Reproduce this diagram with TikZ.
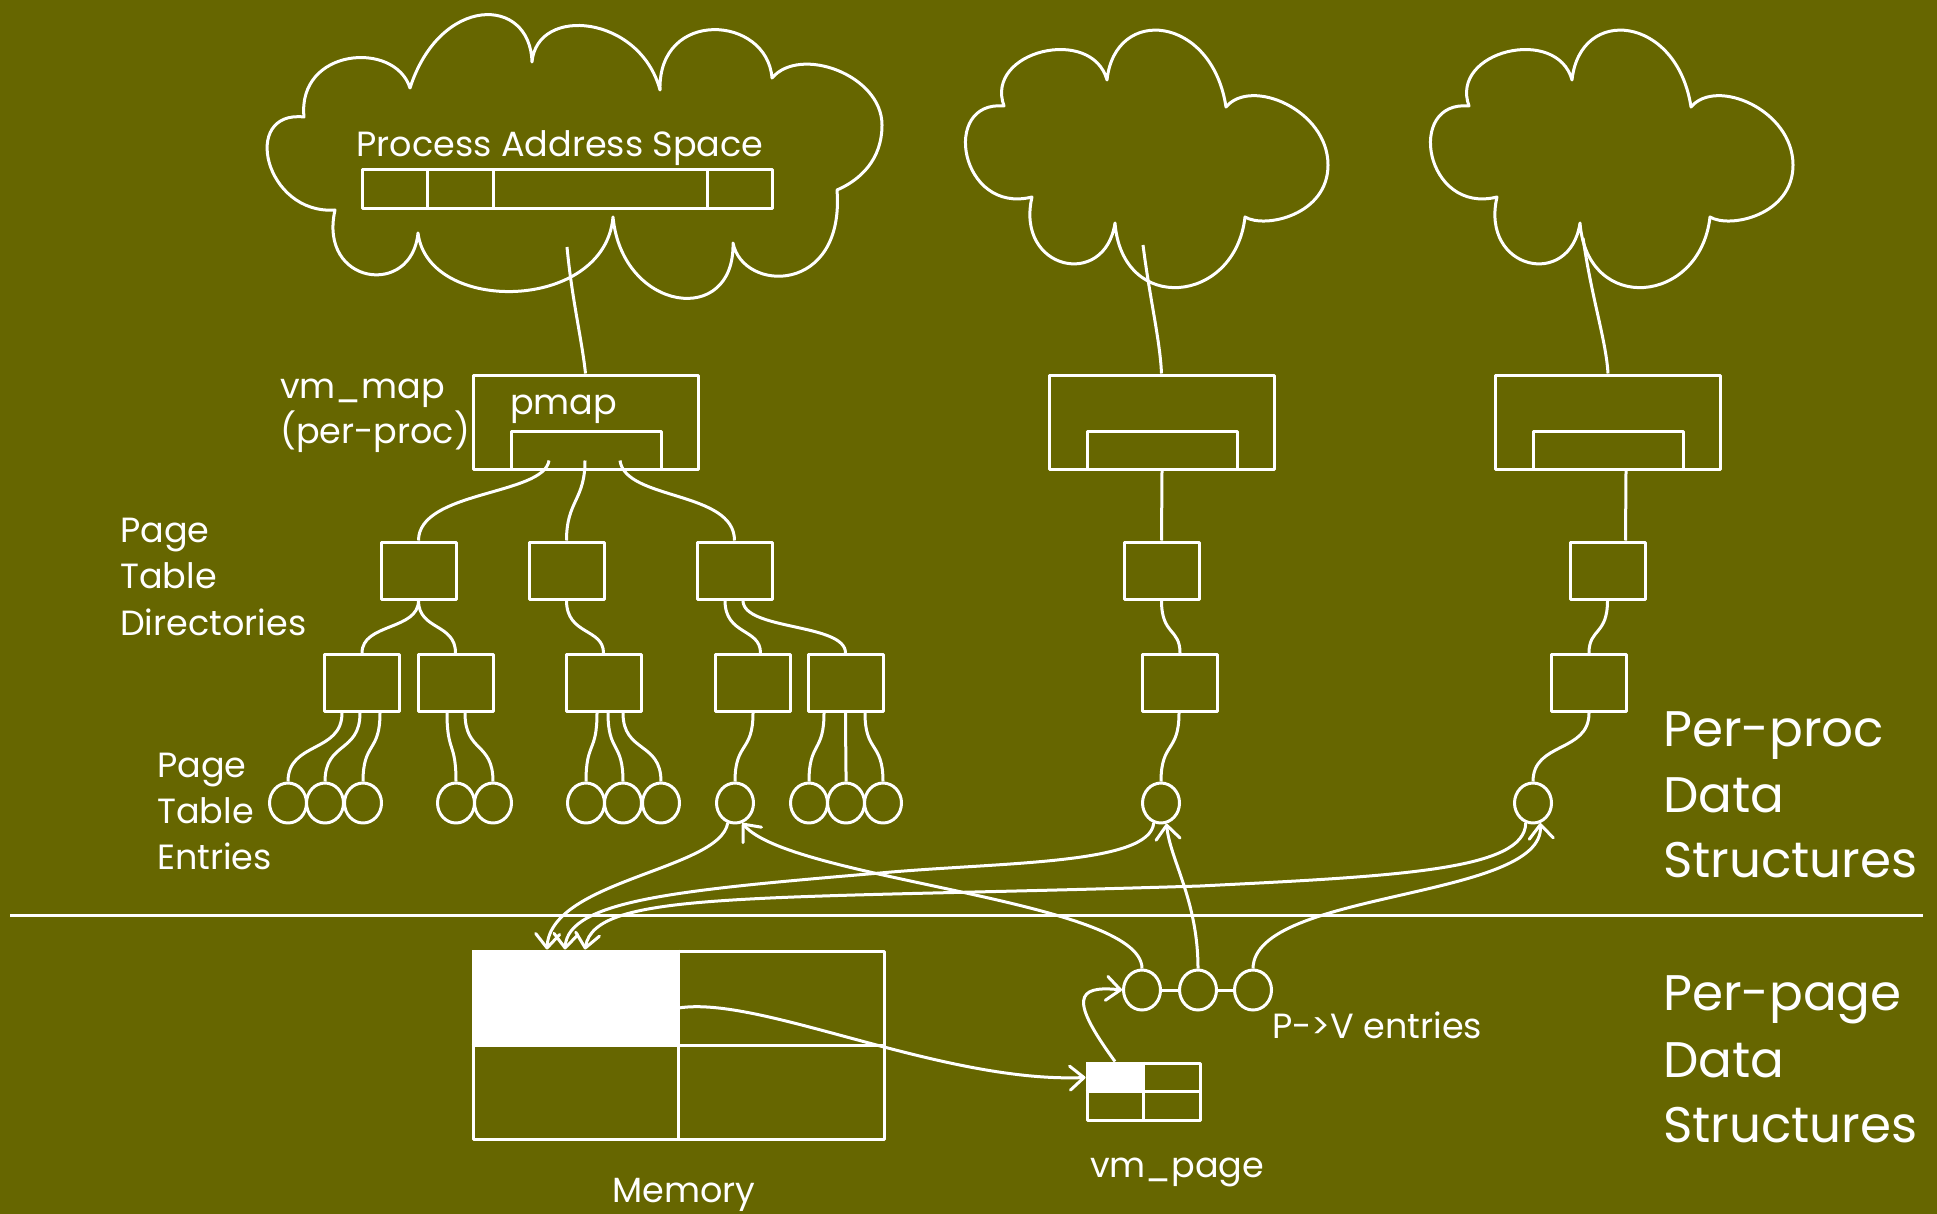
\documentclass[tikz,border=0pt]{standalone}
\usepackage{fontspec}
\setmainfont{Poppins}
\usetikzlibrary{arrows.meta,shapes.geometric}
\definecolor{slidebg}{RGB}{102,102,0}
\tikzset{
  wl/.style={draw=white,line width=3pt,line join=round},
  sbox/.style={wl,rectangle,inner sep=0pt,minimum width=75pt,minimum height=57pt},
  mapbox/.style={wl,rectangle,inner sep=0pt,minimum width=225pt,minimum height=94pt},
  pmbox/.style={wl,rectangle,inner sep=0pt,minimum width=150pt,minimum height=38pt},
  pte/.style={wl,ellipse,inner sep=0pt,minimum width=37pt,minimum height=40pt},
  lbl/.style={text=white,inner sep=0pt,font=\fontsize{35}{44}\selectfont},
  big/.style={text=white,inner sep=0pt,font=\fontsize{50}{60}\selectfont},
  link/.style={wl},
  arr/.style={wl,-{Straight Barb[length=14pt,width=24pt,round]}},
  % a small cloud, drawn lobe by lobe between its cusps
  smallcloud/.pic={
    \draw[wl] (1004,106) .. controls (984,51) and (1092,25) .. (1107,80)
      .. controls (1115,5) and (1212,15) .. (1226,107)
      .. controls (1251,77) and (1328,110) .. (1328,165)
      .. controls (1328,215) and (1265,229) .. (1245,217)
      .. controls (1235,305) and (1122,315) .. (1115,223)
      .. controls (1105,290) and (1015,270) .. (1032,197)
      .. controls (960,215) and (940,100) .. (1004,106) -- cycle;
  }
}
\begin{document}
\begin{tikzpicture}[x=1pt,y=-1pt]
% canvas
\fill[slidebg] (0,0) rectangle (1937,1214);
\useasboundingbox (0,0) rectangle (1937,1214);

% ---- process address space cloud
\draw[wl] (304,117) .. controls (240,110) and (265,215) .. (335,210)
  .. controls (318,285) and (412,298) .. (418,233)
  .. controls (428,315) and (605,312) .. (613,217)
  .. controls (622,312) and (735,328) .. (733,243)
  .. controls (743,293) and (845,295) .. (837,190)
  .. controls (860,180) and (882,160) .. (882,125)
  .. controls (882,75) and (800,45) .. (772,78)
  .. controls (767,15) and (658,8) .. (660,90)
  .. controls (640,15) and (537,5) .. (532,62)
  .. controls (530,-5) and (440,-5) .. (410,88)
  .. controls (395,40) and (297,48) .. (304,117) -- cycle;
\node[lbl,anchor=base] (tasp) at (560,157) {Process Address Space};
\node[wl,rectangle,inner sep=0pt,minimum width=410pt,minimum height=39pt] (asb) at (567,189.5) {};
\foreach \dx in {-140,-74,140}
  \draw[wl] ([xshift=\dx pt]asb.north) -- ([xshift=\dx pt]asb.south);

% ---- the two other clouds
\pic at (0,0) {smallcloud};
\pic at (465,0) {smallcloud};

% ---- vm_map structures
\node[mapbox] (vm1) at (585.5,422) {};
\node[pmbox]  (pm1) at (586,450) {};
\node[mapbox] (vm2) at (1161.5,422) {};
\node[pmbox]  (pm2) at (1162,450) {};
\node[mapbox] (vm3) at (1608,422) {};
\node[pmbox]  (pm3) at (1608,450) {};
\node[lbl,anchor=base west] (tpm) at (510,414) {pmap};
\node[lbl,anchor=base west] (tvm) at (280,398) {vm\_map};
\node[lbl,anchor=base west] (tpp) at (280,443) {(per-proc)};

\coordinate (c1s) at (567,247);
\coordinate (c2s) at (1143,245);
\coordinate (c3s) at (1583,238);
\draw[link] (c1s) .. controls (572,300) and (582,340) .. (vm1.north);
\draw[link] (c2s) .. controls (1150,300) and (1160,340) .. (vm2.north);
\draw[link] (c3s) .. controls (1592,300) and (1606,340) .. (vm3.north);

% ---- page table directories
\node[sbox] (d1) at (418.5,570.5) {};
\node[sbox] (d2) at (566.5,570.5) {};
\node[sbox] (d3) at (734.5,570.5) {};
\node[sbox] (d4) at (1161.5,570.5) {};
\node[sbox] (d5) at (1607.5,570.5) {};
\node[lbl,anchor=base west] (tptd1) at (120,542) {Page};
\node[lbl,anchor=base west] (tptd2) at (120,588) {Table};
\node[lbl,anchor=base west] (tptd3) at (120,635) {Directories};

\draw[link] ([xshift=-37pt,yshift=10pt]pm1.south) .. controls +(-5,35) and +(0,-50) .. (d1.north);
\draw[link] ([xshift=-1pt,yshift=10pt]pm1.south) .. controls +(0,40) and +(0,-40) .. (d2.north);
\draw[link] ([xshift=34pt,yshift=10pt]pm1.south) .. controls +(5,40) and +(0,-50) .. (d3.north);
\draw[link] (pm2.south) -- (d4.north);
\draw[link] ([xshift=18pt]pm3.south) -- ([xshift=18pt]d5.north);

% ---- page tables
\node[sbox] (t1) at (362,683) {};
\node[sbox] (t2) at (455.5,683) {};
\node[sbox] (t3) at (603.5,683) {};
\node[sbox] (t4) at (752.5,683) {};
\node[sbox] (t5) at (845.5,683) {};
\node[sbox] (t6) at (1180,683) {};
\node[sbox] (t7) at (1589,683) {};

\draw[link] (d1.south) .. controls +(0,30) and +(0,-30) .. (t1.north);
\draw[link] (d1.south) .. controls +(0,30) and +(0,-30) .. (t2.north);
\draw[link] (d2.south) .. controls +(0,35) and +(0,-25) .. (t3.north);
\draw[link] ([xshift=-9.5pt]d3.south) .. controls +(0,35) and +(0,-25) .. ([xshift=8pt]t4.north);
\draw[link] ([xshift=8.5pt]d3.south) .. controls +(0,30) and +(0,-30) .. (t5.north);
\draw[link] (d4.south) .. controls +(0,35) and +(0,-25) .. (t6.north);
\draw[link] (d5.south) .. controls +(0,35) and +(0,-25) .. (t7.north);

% ---- page table entries
\foreach \n/\x in {1/288,2/325,3/363,4/456,5/493,6/586,7/623,8/661,9/735,10/809,11/846,12/883,13/1161,14/1533}
  \node[pte] (e\n) at (\x,803) {};
\node[lbl,anchor=base west] (tpte1) at (157,777) {Page};
\node[lbl,anchor=base west] (tpte2) at (157,823) {Table};
\node[lbl,anchor=base west] (tpte3) at (157,869) {Entries};

\foreach \t/\dx/\e in {t1/-20/e1,t1/-2/e2,t1/18/e3,t2/-8.5/e4,t2/9.5/e5,t3/-6.5/e6,t3/4.5/e7,t3/19.5/e8,t4/0.5/e9,t5/-21.5/e10,t5/0/e11,t5/19.5/e12,t6/-1/e13,t7/0/e14}
  \draw[link] ([xshift=\dx pt]\t.south) .. controls +(0,40) and +(0,-40) .. (\e.north);

% ---- boundary between per-process and per-page data
\coordinate (divl) at (10,915);
\coordinate (divr) at (1923,915);
\draw[wl] (divl) -- (divr);
\node[big,anchor=base west] (tpr1) at (1663,746) {Per-proc};
\node[big,anchor=base west] (tpr2) at (1663,812) {Data};
\node[big,anchor=base west] (tpr3) at (1663,877) {Structures};
\node[big,anchor=base west] (tpg1) at (1663,1010) {Per-page};
\node[big,anchor=base west] (tpg2) at (1663,1077) {Data};
\node[big,anchor=base west] (tpg3) at (1663,1142) {Structures};

% ---- physical memory
\node[wl,rectangle,inner sep=0pt,minimum width=411pt,minimum height=188pt] (mem) at (678.5,1045) {};
\fill[white] (mem.north west) rectangle (mem.center);
\draw[wl] (mem.north) -- (mem.south);
\draw[wl] (mem.west) -- (mem.east);
\node[lbl,anchor=base] (tmem) at (684,1202) {Memory};

% ---- vm_page
\node[wl,rectangle,inner sep=0pt,minimum width=113pt,minimum height=57pt] (vp) at (1143.5,1091.5) {};
\fill[white] (vp.north west) rectangle (vp.center);
\draw[wl] (vp.north) -- (vp.south);
\draw[wl] (vp.west) -- (vp.east);
\node[lbl,anchor=base west] (tvp) at (1090,1177) {vm\_page};

% ---- P->V entries
\node[pte] (pv1) at (1142,990) {};
\node[pte] (pv2) at (1198,990) {};
\node[pte] (pv3) at (1253,990) {};
\draw[wl] (pv1.east) -- (pv2.west) (pv2.east) -- (pv3.west);
\node[lbl,anchor=base west] (tpv) at (1272,1038) {P->V entries};

% ---- pointers
\draw[arr] ([xshift=-28.5pt]vp.north) .. controls (1070,1000) and (1075,985) .. (pv1.west);
\draw[arr] ([yshift=37pt]mem.center) .. controls (760,995) and (940,1083) .. ([yshift=14pt]vp.west);
\draw[arr] (pv1.north) .. controls (1142,900) and (790,880) .. (e9.290);
\draw[arr] (pv2.north) .. controls (1198,900) and (1170,860) .. (e13.285);
\draw[arr] (pv3.north) .. controls (1254,890) and (1545,900) .. (e14.290);
\draw[arr] (e9.250) .. controls (720,870) and (550,880) .. ([xshift=-131.5pt]mem.north);
\draw[arr] (e13.250) .. controls (1150,865) and (1000,862) .. (880,873)
  .. controls (680,890) and (568,900) .. ([xshift=-113.5pt]mem.north);
\draw[arr] (e14.250) .. controls (1525,870) and (1400,876) .. (1200,886)
  .. controls (750,900) and (595,890) .. ([xshift=-93.5pt]mem.north);
\end{tikzpicture}
\end{document}
